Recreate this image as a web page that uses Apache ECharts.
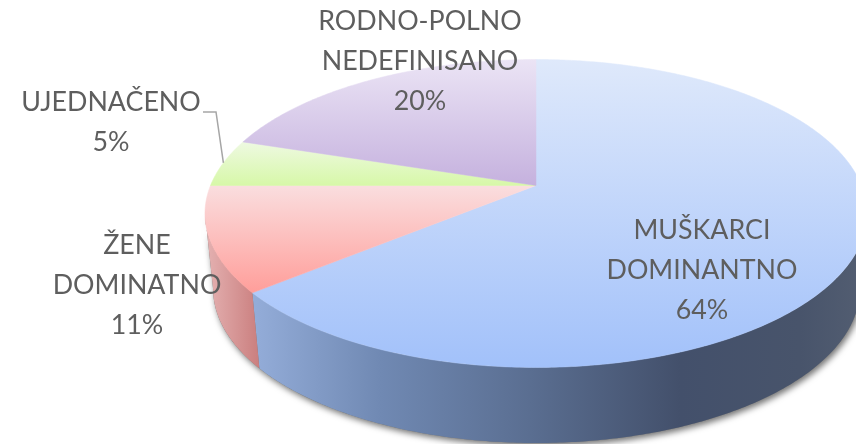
<!DOCTYPE html>
<html><head><meta charset="utf-8">
<style>html,body{margin:0;padding:0;background:#fff}#c{width:856px;height:444px}</style>
<script src="https://cdn.jsdelivr.net/npm/echarts@6/dist/echarts.min.js"></script>
</head><body><div id="c"></div>
<script>
const categories = ['MUŠKARCI\nDOMINANTNO', 'ŽENE\nDOMINATNO', 'UJEDNAČENO', 'RODNO-POLNO\nNEDEFINISANO'];
const shares = [64, 11, 5, 20];

const total = shares.reduce((a, b) => a + b, 0);
const cum = [0]; shares.forEach(v => cum.push(cum[cum.length - 1] + v));
const ang = p => p / total * Math.PI * 2;

// projected disc: perspective tilt of a circle
const TOP = {x0: 536, y0: 185.5, a: 325.5, b: 148.9, q: 0.1818};
const BOT = {x0: 536.5, y0: 261, a: 318, b: 148.9, q: 0.1818};
const visStart = Math.acos(-TOP.q), visEnd = Math.PI * 2 - visStart; // silhouette tangents of the rim
function proj(d, t) {
  const u = Math.sin(t), v = Math.cos(t), w = 1 + d.q * v;
  return [d.x0 + d.a * u / w, d.y0 - d.b * v / w];
}
function arc(d, t1, t2) {
  const n = Math.max(2, Math.ceil(Math.abs(t2 - t1) / 0.01)), pts = [];
  for (let i = 0; i <= n; i++) pts.push(proj(d, t1 + (t2 - t1) * i / n));
  return pts;
}
const G = echarts.graphic.LinearGradient;
const topFill = [
  new G(0, 59, 0, 367, [{offset: 0, color: '#DFE9FB'}, {offset: 1, color: '#A2C1FA'}], true),
  new G(0, 187, 0, 293, [{offset: 0, color: '#FADDDE'}, {offset: 1, color: '#FF9E9A'}], true),
  new G(0, 140, 0, 187, [{offset: 0, color: '#EFF9E4'}, {offset: 1, color: '#D6F8A6'}], true),
  new G(0, 59, 0, 186, [{offset: 0, color: '#EBE4F5'}, {offset: 1, color: '#C5B1DE'}], true)
];
const hStops = (x1, x2, stops) => new G(x1, 0, x2, 0, stops.map(s => ({offset: (s[0] - x1) / (x2 - x1), color: s[1]})), true);
const sideFill = [
  hStops(256, 860, [[256, '#93ACD8'], [380, '#7089B3'], [530, '#5A6E91'], [680, '#43506B'], [800, '#48546B'], [860, '#525D71']]),
  hStops(204, 262, [[204, '#E5B3B3'], [262, '#C97C7C']]),
  '#B0C890',
  '#A090B8'
];
const labelPos = [[702, 270], [137, 285], [111, 122], [420, 61]];

function baseItem() {
  const pts = arc(TOP, visStart, visEnd).concat(arc(BOT, visEnd, visStart));
  return {type: 'polygon', shape: {points: pts}, style: {fill: '#777',
    shadowBlur: 6, shadowColor: 'rgba(0,0,0,0.55)', shadowOffsetX: 2, shadowOffsetY: 3}};
}
function sideItem(params, api) {
  const i = params.dataIndex;
  const t1 = Math.max(ang(cum[i]), visStart), t2 = Math.min(ang(cum[i] + api.value(0)), visEnd);
  if (t2 <= t1) return null;
  const pts = arc(TOP, t1, t2).concat(arc(BOT, t2, t1));
  return {type: 'polygon', shape: {points: pts}, style: {fill: sideFill[i]}};
}
function topItem(params, api) {
  const i = params.dataIndex;
  const t1 = ang(cum[i]), t2 = ang(cum[i] + api.value(0));
  const pts = [[TOP.x0, TOP.y0]].concat(arc(TOP, t1, t2));
  return {type: 'polygon', shape: {points: pts}, style: {fill: topFill[i], stroke: topFill[i], lineWidth: 0.5}};
}
function labelItem(params, api) {
  const i = params.dataIndex;
  const txt = categories[i] + '\n' + api.value(0) + '%';
  const children = [{type: 'text', style: {x: labelPos[i][0], y: labelPos[i][1], text: txt, align: 'center',
    verticalAlign: 'middle', fill: '#5E5E5E', font: '26.8px Lato', lineHeight: 40}}];
  if (i === 2) {
    const end = proj(TOP, ang(cum[i] + api.value(0) / 2));
    children.push({type: 'polyline', shape: {points: [[203, 112], [216, 112], end]},
      style: {stroke: '#A6A6A6', lineWidth: 1.5, fill: null}});
  }
  return {type: 'group', children};
}
const data = shares.map(v => [v]);
const chart = echarts.init(document.getElementById('c'), null, {renderer: 'canvas'});
chart.setOption({
  animation: false,
  backgroundColor: '#fff',
  series: [
    {type: 'custom', coordinateSystem: 'none', renderItem: baseItem, data: [[total]], z: 0, silent: true},
    {type: 'custom', coordinateSystem: 'none', renderItem: sideItem, data, z: 1, silent: true},
    {type: 'custom', coordinateSystem: 'none', renderItem: topItem, data, z: 2, silent: true},
    {type: 'custom', coordinateSystem: 'none', renderItem: labelItem, data, z: 3, silent: true}
  ]
});
</script></body></html>
